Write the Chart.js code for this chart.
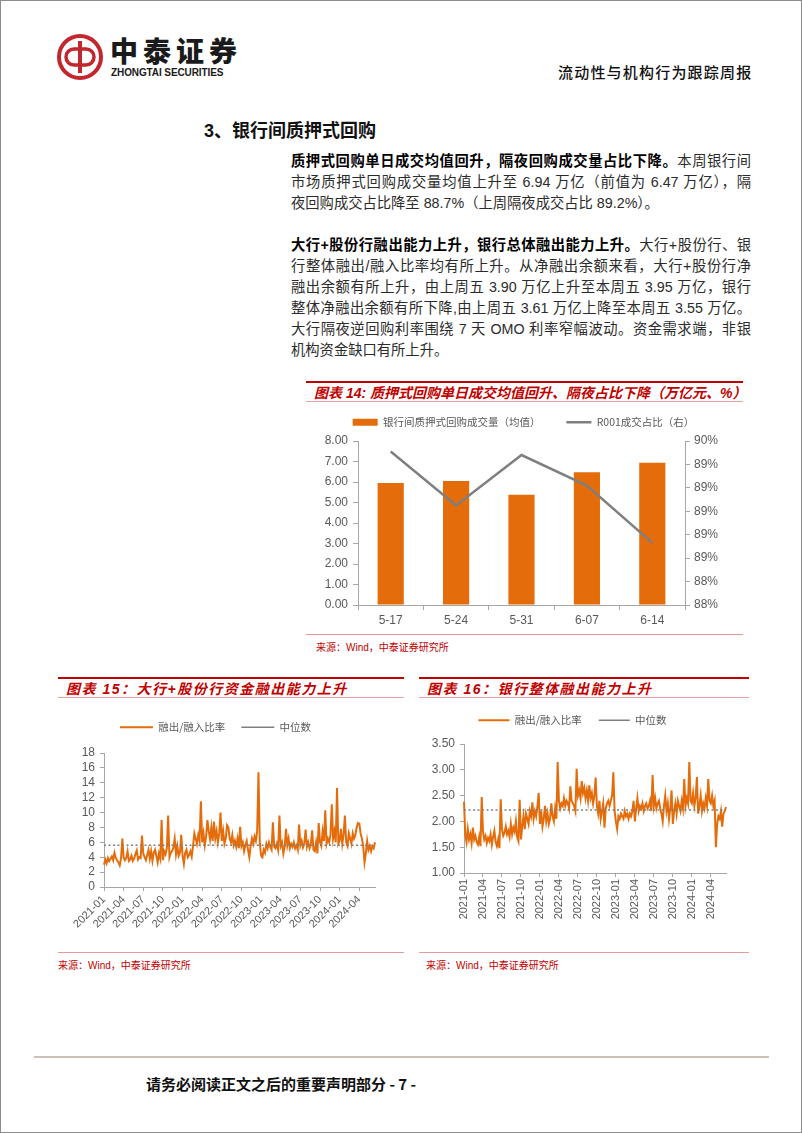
<!DOCTYPE html>
<html>
<head>
<meta charset="utf-8">
<script src="https://cdn.jsdelivr.net/npm/chart.js@4.4.1/dist/chart.umd.min.js"></script>
<style>
html, body { margin: 0; padding: 0; background: #fff; }
#page { position: relative; width: 802px; height: 1133px; box-sizing: border-box; border: 1px solid #8c8c8c; overflow: hidden;
  font-family: "Liberation Sans", Arial, "Noto Sans CJK SC", sans-serif; background: #fff; }
.ln { position: absolute; left: 290px; width: 460px; height: 21px; line-height: 21px; font-size: 14.3px; color: #2b2b2b;
  text-align: justify; text-align-last: justify; }
.ln.last { text-align-last: left; }
.ln b { color: #000; font-weight: 700; }
.tbar { position: absolute; height: 21px; border-top: 2px solid #c00000; border-bottom: 1px solid #e8a3a3;
  color: #c00000; font-weight: 700; font-style: italic; font-size: 14px; line-height: 21px; white-space: nowrap; }
.src { position: absolute; border-top: 1px solid #e59a9a; color: #c00000; font-size: 10px; padding-top: 4px; }
.box { position: absolute; }
</style>
</head>
<body>
<div id="page">
  <svg style="position:absolute;left:55px;top:32px" width="50" height="50" viewBox="0 0 50 50">
    <circle cx="24" cy="24" r="21" fill="none" stroke="#c1272d" stroke-width="4"/>
    <rect x="22" y="8" width="4" height="32" fill="#c1272d"/>
    <path d="M24 16 h-6 a8 8 0 0 0 0 16 h6" fill="none" stroke="#c1272d" stroke-width="3.5"/>
    <path d="M24 32 h6 a8 8 0 0 0 0 -16 h-6" fill="none" stroke="#c1272d" stroke-width="3.5"/>
  </svg>
  <div style="position:absolute;left:109px;top:32px;font-family:'Noto Sans CJK SC';font-size:28px;font-weight:900;letter-spacing:5px;color:#1a1a1a;line-height:34px">中泰证券</div>
  <div style="position:absolute;left:110px;top:66px;font-size:10px;font-weight:700;color:#1a1a1a;letter-spacing:-0.1px">ZHONGTAI SECURITIES</div>
  <div style="position:absolute;left:557px;top:60px;font-family:'Noto Sans CJK SC';font-size:15px;font-weight:500;letter-spacing:1.2px;color:#111">流动性与机构行为跟踪周报</div>

  <div style="position:absolute;left:203px;top:118px;font-family:'Liberation Sans','Noto Sans CJK SC';font-size:18px;font-weight:700;color:#111;line-height:24px">3、银行间质押式回购</div>

  <div class="ln" style="top:150px"><b>质押式回购单日成交均值回升，隔夜回购成交量占比下降。</b>本周银行间</div>
  <div class="ln" style="top:171px">市场质押式回购成交量均值上升至 6.94 万亿（前值为 6.47 万亿），隔</div>
  <div class="ln last" style="top:192px">夜回购成交占比降至 88.7%（上周隔夜成交占比 89.2%）。</div>

  <div class="ln" style="top:234px"><b>大行+股份行融出能力上升，银行总体融出能力上升。</b>大行+股份行、银</div>
  <div class="ln" style="top:255px">行整体融出/融入比率均有所上升。从净融出余额来看，大行+股份行净</div>
  <div class="ln" style="top:276px">融出余额有所上升，由上周五 3.90 万亿上升至本周五 3.95 万亿，银行</div>
  <div class="ln" style="top:297px">整体净融出余额有所下降,由上周五 3.61 万亿上降至本周五 3.55 万亿。</div>
  <div class="ln" style="top:318px">大行隔夜逆回购利率围绕 7 天 OMO 利率窄幅波动。资金需求端，非银</div>
  <div class="ln last" style="top:339px">机构资金缺口有所上升。</div>

  <div class="tbar" style="left:305px;top:380px;width:437px;padding-left:8px;box-sizing:border-box">图表 14: 质押式回购单日成交均值回升、隔夜占比下降（万亿元、%）</div>
  <div class="box" style="left:300px;top:390px;width:445px;height:240px"><canvas id="c14"></canvas></div>
  <div class="src" style="left:305px;top:633px;width:437px;padding-left:10px;box-sizing:border-box">来源：Wind，中泰证券研究所</div>

  <div class="tbar" style="left:57px;top:676px;width:346px;padding-left:8px;box-sizing:border-box;letter-spacing:1.5px">图表 15：大行+股份行资金融出能力上升</div>
  <div class="box" style="left:55px;top:705px;width:348px;height:240px"><canvas id="c15"></canvas></div>
  <div class="src" style="left:57px;top:951px;width:346px;box-sizing:border-box">来源：Wind，中泰证券研究所</div>

  <div class="tbar" style="left:418px;top:676px;width:330px;padding-left:8px;box-sizing:border-box;letter-spacing:1.5px">图表 16：银行整体融出能力上升</div>
  <div class="box" style="left:418px;top:697px;width:330px;height:233px"><canvas id="c16"></canvas></div>
  <div class="src" style="left:418px;top:951px;width:330px;padding-left:7px;box-sizing:border-box">来源：Wind，中泰证券研究所</div>

  <div style="position:absolute;left:33px;top:1055px;width:735px;border-top:2px solid #cbc1b7"></div>
  <div style="position:absolute;left:145px;top:1073px;font-family:'Noto Sans CJK SC';font-size:15px;font-weight:700;color:#111;line-height:20px">请务必阅读正文之后的重要声明部分 - 7 -</div>
</div>

<script>
// 图表14
const weeks = ['5-17', '5-24', '5-31', '6-07', '6-14'];
const repoVolume = [5.95, 6.05, 5.38, 6.47, 6.94];
const r001Share = [89.51, 89.05, 89.48, 89.22, 88.73];

// 图表15/16: 每月5个观测
const months = [
  '2021-01', '2021-02', '2021-03', '2021-04', '2021-05', '2021-06', '2021-07', '2021-08', '2021-09', '2021-10', '2021-11', '2021-12',
  '2022-01', '2022-02', '2022-03', '2022-04', '2022-05', '2022-06', '2022-07', '2022-08', '2022-09', '2022-10', '2022-11', '2022-12',
  '2023-01', '2023-02', '2023-03', '2023-04', '2023-05', '2023-06', '2023-07', '2023-08', '2023-09', '2023-10', '2023-11', '2023-12',
  '2024-01', '2024-02', '2024-03', '2024-04', '2024-05', '2024-06'
];
const perMonth = 5;
const tickMonths = ['2021-01', '2021-04', '2021-07', '2021-10', '2022-01', '2022-04', '2022-07', '2022-10',
  '2023-01', '2023-04', '2023-07', '2023-10', '2024-01', '2024-04'];

const bigRatio = [
  3.0, 3.7, 3.2, 3.9, 3.5,
  3.8, 4.1, 3.6, 4.6, 3.9,
  3.6, 3.3, 2.9, 3.8, 6.5,
  4.0, 3.6, 3.9, 4.8, 3.5,
  3.7, 4.2, 3.5, 3.8, 4.4,
  4.9, 3.7, 4.0, 3.9, 6.9,
  4.5, 4.0, 3.6, 4.3, 5.0,
  3.8, 4.8, 3.5, 4.6, 5.0,
  4.2, 3.3, 4.5, 3.8, 9.0,
  3.6, 4.8, 4.4, 5.2, 9.6,
  4.0, 4.6, 4.8, 5.3, 6.5,
  4.4, 5.5, 4.2, 4.6, 7.0,
  4.2, 3.1, 4.6, 5.0, 4.0,
  4.3, 4.8, 4.1, 5.5, 7.2,
  6.5, 5.8, 7.0, 6.2, 11.5,
  6.0, 7.2, 5.6, 6.8, 9.0,
  7.5, 6.4, 8.0, 6.2, 8.8,
  6.5, 7.5, 6.0, 7.2, 10.0,
  6.2, 7.5, 5.8, 6.5, 8.3,
  8.0, 6.5, 6.0, 7.0, 5.6,
  6.2, 5.4, 6.5, 5.2, 8.1,
  5.5, 6.0, 4.8, 5.6, 6.2,
  5.0, 4.0, 5.5, 6.5, 5.8,
  6.8, 6.2, 7.5, 15.4, 6.0,
  4.2, 4.0, 5.0, 4.6, 5.8,
  5.2, 6.0, 5.4, 5.0, 8.7,
  5.4, 5.2, 5.8, 5.0, 9.6,
  5.5, 6.0, 4.5, 5.4, 7.8,
  5.6, 6.5, 5.2, 5.8, 5.4,
  6.0, 5.2, 5.6, 5.0, 8.4,
  5.6, 6.2, 5.3, 5.8, 7.7,
  5.4, 6.0, 5.2, 5.8, 7.6,
  5.0, 4.8, 6.0, 4.5, 8.6,
  6.0, 5.5, 7.5, 6.2, 10.3,
  5.8, 6.5, 6.0, 7.0, 11.1,
  6.5, 7.5, 6.0, 13.3, 5.8,
  6.2, 7.8, 5.8, 7.0, 9.6,
  6.0, 5.5, 7.2, 6.5, 5.8,
  7.2, 6.5, 7.0, 8.0, 8.6,
  8.5, 7.2, 6.5, 5.5, 3.3,
  4.5, 6.2, 5.0, 5.5, 4.8,
  5.5, 5.2, 6.0
];
const bigMedian = 5.6;

const allRatio = [
  2.38, 1.75, 1.60, 1.85, 1.65,
  1.75, 1.58, 1.88, 1.65, 1.72,
  1.60, 1.55, 1.70, 1.52, 2.47,
  1.80, 1.65, 1.72, 1.58, 1.68,
  1.62, 1.75, 1.55, 1.70, 1.82,
  1.60, 1.52, 1.65, 1.48, 2.43,
  1.85, 1.72, 1.78, 1.90, 1.75,
  1.82, 1.70, 1.95, 1.75, 1.88,
  1.80, 2.00, 1.70, 1.62, 2.42,
  1.65, 1.90, 2.10, 1.85, 2.15,
  2.05, 1.95, 2.20, 2.10, 2.37,
  2.05, 2.20, 2.10, 2.30, 2.55,
  1.95, 2.20, 1.90, 2.05, 2.30,
  2.00, 2.15, 1.95, 2.05, 2.35,
  2.10, 2.00, 2.25, 2.05, 3.15,
  2.40, 2.25, 2.35, 2.30, 2.45,
  2.30, 2.40, 2.35, 2.25, 2.68,
  2.40, 2.35, 2.30, 2.20, 3.02,
  2.50, 2.60, 2.45, 2.78, 2.55,
  2.65, 2.45, 2.60, 2.40, 2.70,
  2.45, 2.55, 2.35, 2.50, 2.85,
  2.30, 2.15, 2.40, 2.05, 2.20,
  2.35, 1.88, 2.25, 2.35, 2.40,
  2.30, 2.40, 2.50, 2.95, 2.20,
  2.00, 1.85, 2.10, 2.05, 2.15,
  2.10, 2.05, 2.20, 2.10, 2.15,
  2.05, 2.15, 2.10, 2.20, 2.40,
  2.00, 2.25, 2.45, 2.20, 2.30,
  2.25, 2.35, 2.20, 2.30, 2.35,
  2.25, 2.30, 2.40, 2.20, 2.90,
  2.30, 2.45, 2.25, 2.35, 2.40,
  2.25, 2.15, 2.00, 2.30, 2.50,
  2.20, 2.35, 2.05, 2.25, 2.60,
  1.95, 2.20, 2.35, 2.15, 2.40,
  2.30, 2.20, 2.40, 2.25, 2.82,
  2.30, 2.45, 2.35, 3.15, 2.40,
  2.35, 2.55, 2.30, 2.45, 2.86,
  2.15, 2.30, 2.50, 2.20, 2.35,
  2.25, 2.45, 2.30, 2.82, 2.40,
  2.35, 2.50, 2.30, 2.40, 1.50,
  1.95, 2.10, 2.05, 2.20, 1.90,
  2.15, 2.20, 2.28
];
const allMedian = 2.22;

const orange = '#e46c0a';
const gray = '#7f7f7f';
const axisColor = '#a6a6a6';

Chart.defaults.font.family = '"Liberation Sans", Arial, "Noto Sans CJK SC", sans-serif';
Chart.defaults.font.size = 12;
Chart.defaults.color = '#595959';
Chart.defaults.animation = false;

function legendHeight(h) {
  return {
    id: 'legendHeight',
    beforeInit(chart) {
      const fit = chart.legend.fit;
      chart.legend.fit = function () {
        fit.call(this);
        this.height = h;
      };
    }
  };
}

const legendFont = { family: '"Noto Sans CJK SC", sans-serif', size: 10.5 };

new Chart(document.getElementById('c14'), {
  data: {
    labels: weeks,
    datasets: [{
      type: 'bar',
      label: '银行间质押式回购成交量（均值）',
      data: repoVolume,
      backgroundColor: orange,
      barPercentage: 0.4,
      categoryPercentage: 1,
      pointStyle: 'rect',
      order: 1,
      yAxisID: 'y'
    }, {
      type: 'line',
      label: 'R001成交占比（右）',
      data: r001Share,
      borderColor: gray,
      backgroundColor: gray,
      borderWidth: 2.5,
      pointRadius: 0,
      pointStyle: 'line',
      order: 0,
      yAxisID: 'y1'
    }]
  },
  options: {
    responsive: true,
    maintainAspectRatio: false,
    layout: { padding: 0 },
    plugins: {
      legend: {
        position: 'top',
        labels: {
          usePointStyle: true,
          boxWidth: 25,
          pointStyleWidth: 25,
          boxHeight: 7,
          padding: 26,
          font: legendFont,
          sort: (a, b) => a.datasetIndex - b.datasetIndex
        }
      },
      tooltip: { enabled: false }
    },
    scales: {
      x: {
        grid: { drawOnChartArea: false, tickLength: 5, color: axisColor },
        border: { color: axisColor },
        ticks: { padding: 3 },
        afterFit: s => { s.height = 26; }
      },
      y: {
        position: 'left',
        min: 0, max: 8,
        ticks: { stepSize: 1, padding: 5, autoSkip: false, callback: v => v.toFixed(2) },
        grid: { drawOnChartArea: false, tickLength: 5, color: axisColor },
        border: { color: axisColor },
        afterFit: s => { s.width = 57; }
      },
      y1: {
        position: 'right',
        min: 88.2, max: 89.6,
        ticks: { stepSize: 0.2, padding: 4, autoSkip: false, callback: v => Math.round(v) + '%' },
        grid: { drawOnChartArea: false, tickLength: 5, color: axisColor },
        border: { color: axisColor },
        afterFit: s => { s.width = 61; }
      }
    }
  },
  plugins: [legendHeight(50)]
});

function ratioChart(id, values, median, opts) {
  const labels = values.map((_, i) => months[Math.floor(i / perMonth)]);
  return new Chart(document.getElementById(id), {
    type: 'line',
    data: {
      labels: labels,
      datasets: [{
        label: '融出/融入比率',
        data: values,
        borderColor: orange,
        backgroundColor: orange,
        borderWidth: 2,
        pointRadius: 0,
        pointStyle: 'line',
        tension: 0,
        order: 1
      }, {
        label: '中位数',
        data: labels.map(() => median),
        borderColor: gray,
        backgroundColor: gray,
        borderWidth: 1.5,
        borderDash: [2, 2.5],
        pointRadius: 0,
        pointStyle: 'line',
        order: 0
      }]
    },
    options: {
      responsive: true,
      maintainAspectRatio: false,
      layout: { padding: { right: opts.padRight } },
      plugins: {
        legend: {
          position: 'top',
          labels: {
            usePointStyle: true,
            boxWidth: opts.swatch,
            pointStyleWidth: opts.swatch,
            boxHeight: 6,
            padding: opts.legendPad,
            font: legendFont,
            sort: (a, b) => a.datasetIndex - b.datasetIndex
          }
        },
        tooltip: { enabled: false }
      },
      scales: {
        x: {
          grid: { drawOnChartArea: false, tickLength: 4, color: axisColor },
          border: { color: axisColor },
          ticks: {
            autoSkip: false,
            minRotation: opts.rotation,
            maxRotation: opts.rotation,
            padding: 2,
            font: { size: 11 },
            callback: function (value, index) {
              const lab = this.getLabelForValue(value);
              return (index % perMonth === 0 && tickMonths.includes(lab)) ? lab : null;
            }
          },
          afterFit: s => { s.height = opts.xHeight; }
        },
        y: {
          min: opts.min, max: opts.max,
          ticks: { stepSize: opts.step, padding: 5, autoSkip: false, callback: opts.fmt },
          grid: { drawOnChartArea: false, tickLength: 4, color: axisColor },
          border: { color: axisColor },
          afterFit: s => { s.width = opts.yWidth; }
        }
      }
    },
    plugins: [legendHeight(opts.legendH)]
  });
}

ratioChart('c15', bigRatio, bigMedian, {
  min: 0, max: 18, step: 2, fmt: v => String(v),
  rotation: 45, yWidth: 48, padRight: 29, xHeight: 59, legendH: 47, legendPad: 16, swatch: 33
});

ratioChart('c16', allRatio, allMedian, {
  min: 1, max: 3.5, step: 0.5, fmt: v => v.toFixed(2),
  rotation: 90, yWidth: 45, padRight: 23, xHeight: 58, legendH: 46, legendPad: 17, swatch: 31
});
</script>
</body>
</html>
